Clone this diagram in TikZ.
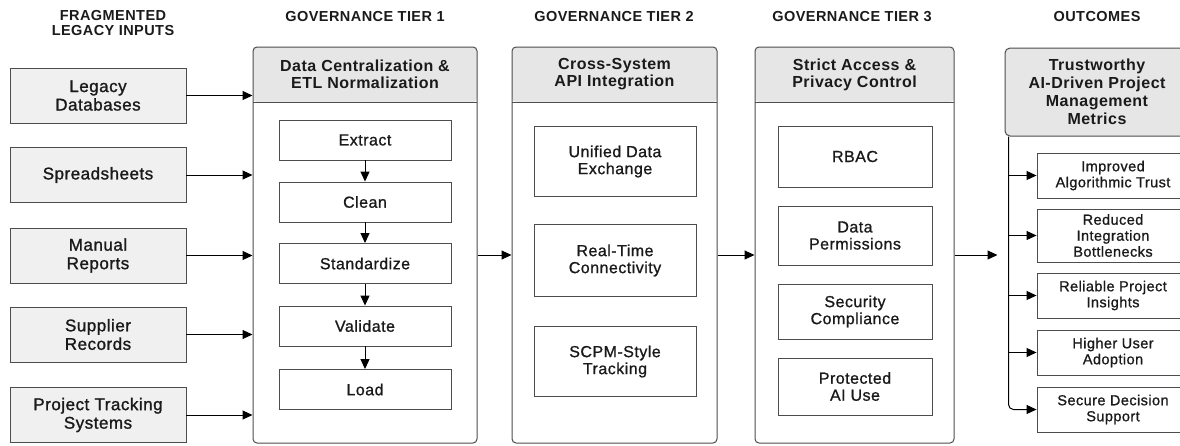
\documentclass[tikz,border=0pt]{standalone}
\usepackage{fontspec}
\setmainfont{Liberation Sans}[LetterSpace=3]
\newfontfamily\medfont{Liberation Sans}[LetterSpace=3, FakeBold=1.2]
\newfontfamily\semfont{Liberation Sans}[LetterSpace=3, FakeBold=0.9]
\usetikzlibrary{arrows.meta}
\definecolor{boxline}{HTML}{4D4D4D}
\definecolor{boxfill}{HTML}{F0F0F0}
\definecolor{headfill}{HTML}{E6E6E6}
\definecolor{inktext}{HTML}{1A1A1A}
\tikzset{
	colhead/.style={align=center, text=inktext, font=\bfseries\fontsize{14.5}{15}\selectfont},
	inbox/.style={draw=boxline, fill=boxfill, line width=0.9pt, minimum width=176pt, minimum height=55pt,
		align=center, text=inktext, font=\medfont\fontsize{17}{18.5}\selectfont},
	tierbox/.style={draw=boxline, line width=1pt, rounded corners=4pt,
		path picture={
			\fill[headfill] (path picture bounding box.north west) rectangle ([yshift=-55pt]path picture bounding box.north east);
			\draw[boxline, line width=1pt] ([yshift=-55pt]path picture bounding box.north west) -- ([yshift=-55pt]path picture bounding box.north east);
		}
	},
	tierhead/.style={align=center, text=inktext, font=\bfseries\fontsize{16}{17}\selectfont},
	stepbox/.style={draw=boxline, line width=0.9pt, fill=white, align=center, text=inktext, font=\semfont\fontsize{16}{17}\selectfont},
	outbox/.style={draw=boxline, line width=0.9pt, fill=white, minimum width=152pt, align=center, text=inktext,
		font=\semfont\fontsize{14.5}{16}\selectfont},
	flow/.style={-{Triangle[length=10pt, width=9pt]}, line width=1pt, draw=black}
}

\begin{document}
\begin{tikzpicture}[x=1pt, y=-1pt]
	\useasboundingbox (0,0) rectangle (1180,445);
	\clip (0,0) rectangle (1180,445);
	% column headings
	\node[colhead] (h0) at (113,23.5) {FRAGMENTED\\LEGACY INPUTS};
	\node[colhead] (h1) at (365,17) {GOVERNANCE TIER 1};
	\node[colhead] (h2) at (614,17) {GOVERNANCE TIER 2};
	\node[colhead] (h3) at (852,17) {GOVERNANCE TIER 3};
	\node[colhead] (h4) at (1097,17) {OUTCOMES};
	% legacy inputs
	\node[inbox] (in1) at (98,95.5) {Legacy\\Databases};
	\node[inbox] (in2) at (98,175) {Spreadsheets};
	\node[inbox] (in3) at (98,255.5) {Manual\\Reports};
	\node[inbox] (in4) at (98,334.5) {Supplier\\Records};
	\node[inbox] (in5) at (98,415) {Project Tracking\\Systems};
	% tier 1
	\node[tierbox, minimum width=224pt, minimum height=396pt] (tier1) at (365,245) {};
	\node[tierhead] (t1head) at (365,74.5) {Data Centralization \&\\ETL Normalization};
	\node[stepbox, minimum width=172pt, minimum height=40pt] (extract) at (365,140) {Extract};
	\node[stepbox, minimum width=172pt, minimum height=40pt] (clean) at (365,202) {Clean};
	\node[stepbox, minimum width=172pt, minimum height=40pt] (stdz) at (365,263.5) {Standardize};
	\node[stepbox, minimum width=172pt, minimum height=40pt] (valid) at (365,326) {Validate};
	\node[stepbox, minimum width=172pt, minimum height=40pt] (load) at (365,389.5) {Load};
	\draw[flow] (extract) -- (clean);
	\draw[flow] (clean) -- (stdz);
	\draw[flow] (stdz) -- (valid);
	\draw[flow] (valid) -- (load);
	% tier 2
	\node[tierbox, minimum width=205pt, minimum height=396pt] (tier2) at (614.5,245) {};
	\node[tierhead] (t2head) at (614.5,74.5) {Cross-System\\API Integration};
	\node[stepbox, minimum width=162pt, minimum height=70pt] (unified) at (615,161.5) {Unified Data\\Exchange};
	\node[stepbox, minimum width=162pt, minimum height=72pt] (realtime) at (615,260.5) {Real-Time\\Connectivity};
	\node[stepbox, minimum width=162pt, minimum height=70pt] (scpm) at (615,361.5) {SCPM-Style\\Tracking};
	% tier 3
	\node[tierbox, minimum width=199pt, minimum height=396pt] (tier3) at (854.5,245) {};
	\node[tierhead] (t3head) at (854.5,74.5) {Strict Access \&\\Privacy Control};
	\node[stepbox, minimum width=154pt, minimum height=61pt] (rbac) at (855,156.5) {RBAC};
	\node[stepbox, minimum width=154pt, minimum height=59pt] (perm) at (855,235.5) {Data\\Permissions};
	\node[stepbox, minimum width=154pt, minimum height=55pt] (secur) at (855,311.5) {Security\\Compliance};
	\node[stepbox, minimum width=154pt, minimum height=57pt] (protect) at (855,386.5) {Protected\\AI Use};
	% outcomes
	\node[draw=boxline, fill=headfill, line width=1pt, rounded corners=5pt, minimum width=184pt, minimum height=88pt,
		align=center, text=inktext, font=\bfseries\fontsize{16}{18}\selectfont] (outhead) at (1097,92)
		{Trustworthy\\AI-Driven Project\\Management\\Metrics};
	\node[outbox, minimum height=45pt] (o1) at (1113,175.5) {Improved\\Algorithmic Trust};
	\node[outbox, minimum height=53pt] (o2) at (1113,235.5) {Reduced\\Integration\\Bottlenecks};
	\node[outbox, minimum height=45pt] (o3) at (1113,295.5) {Reliable Project\\Insights};
	\node[outbox, minimum height=45pt] (o4) at (1113,352.5) {Higher User\\Adoption};
	\node[outbox, minimum height=45pt] (o5) at (1113,409.5) {Secure Decision\\Support};
	\coordinate (trunk) at ([xshift=4pt]outhead.south west);
	% connectors
	\draw[flow] (in1.east) -- (tier1.west |- in1.east);
	\draw[flow] (in2.east) -- (tier1.west |- in2.east);
	\draw[flow] (in3.east) -- (tier1.west |- in3.east);
	\draw[flow] (in4.east) -- (tier1.west |- in4.east);
	\draw[flow] (in5.east) -- (tier1.west |- in5.east);
	\draw[flow] ([yshift=-10pt]tier1.east) -- ([yshift=-10pt]tier2.west);
	\draw[flow] ([yshift=-10pt]tier2.east) -- ([yshift=-10pt]tier3.west);
	\draw[flow, shorten >=11pt] ([yshift=-10pt]tier3.east) -- (trunk |- 0,255);
	\draw[flow, rounded corners=5pt] (trunk) |- (o5.west);
	\draw[flow] (trunk |- o1.west) -- (o1.west);
	\draw[flow] (trunk |- o2.west) -- (o2.west);
	\draw[flow] (trunk |- o3.west) -- (o3.west);
	\draw[flow] (trunk |- o4.west) -- (o4.west);
\end{tikzpicture}
\end{document}
